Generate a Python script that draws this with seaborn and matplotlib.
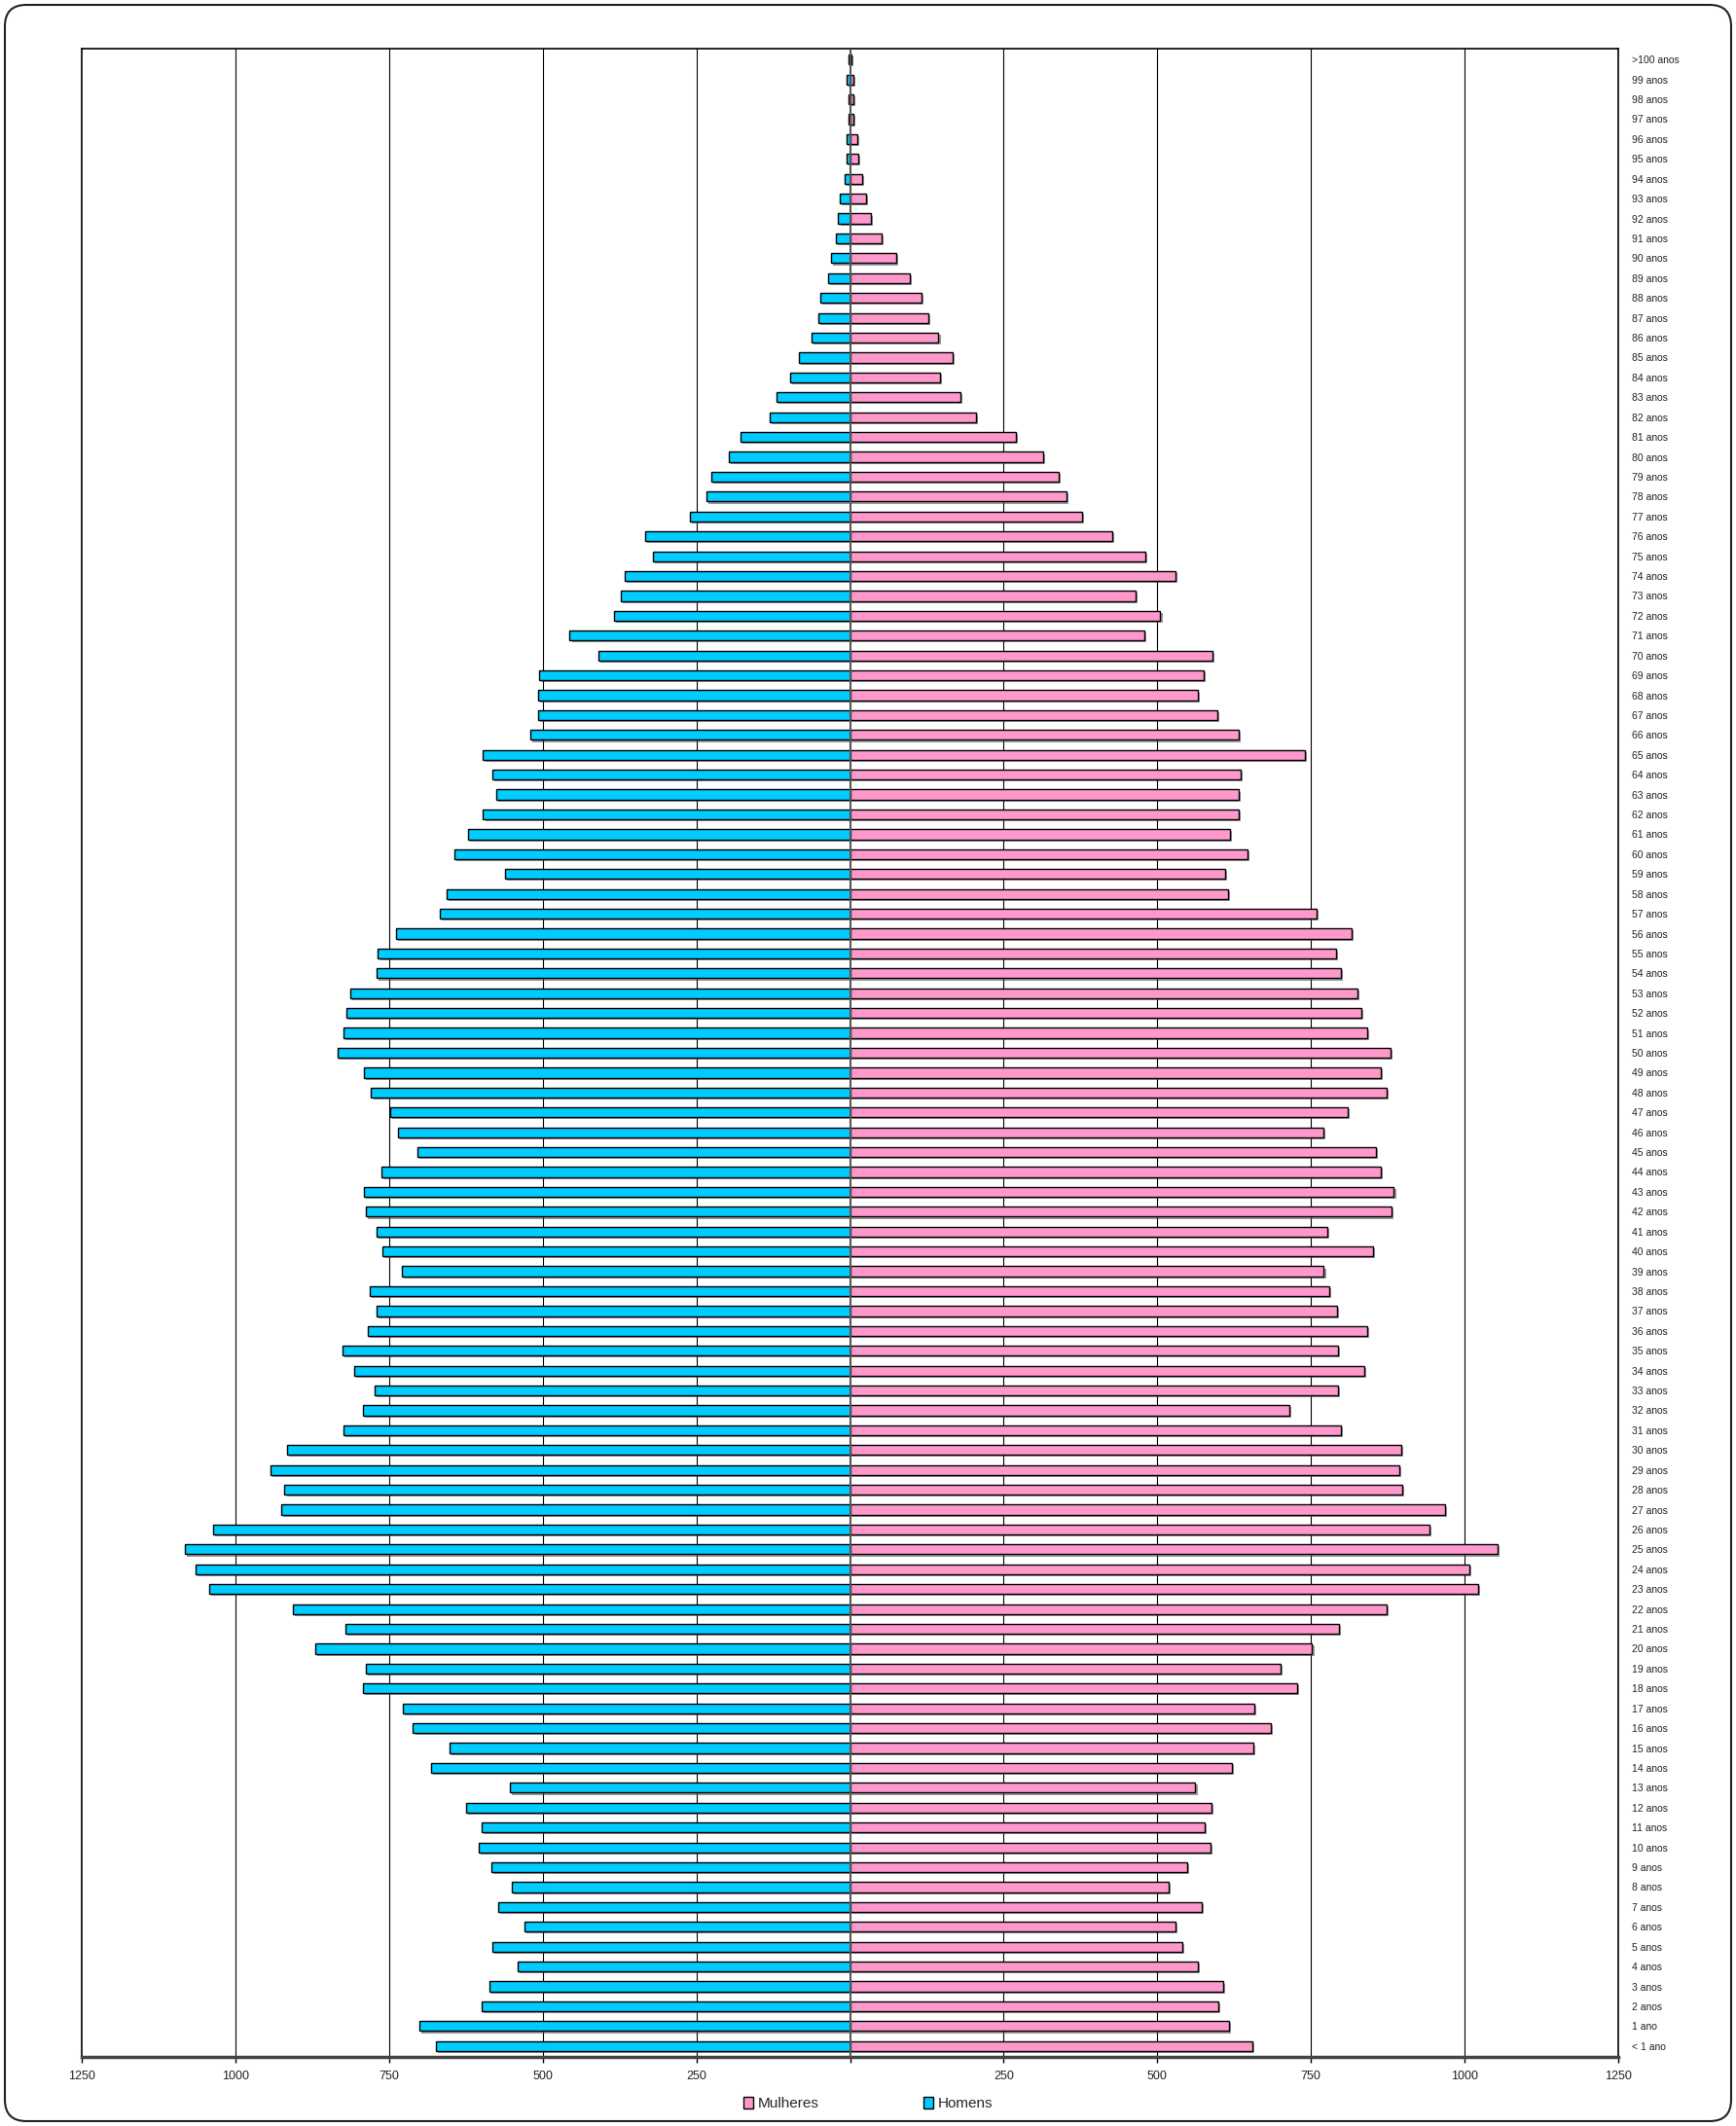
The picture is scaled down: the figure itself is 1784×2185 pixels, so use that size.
import numpy as np
import pandas as pd
import seaborn as sns
import matplotlib.pyplot as plt
import matplotlib.patheffects as pe
from matplotlib.patches import Patch, FancyBboxPatch

# faixas etarias, de cima para baixo
idades = ['>100 anos'] + [f'{i} anos' for i in range(99, 1, -1)] + ['1 ano', '< 1 ano']

homens = [3, 5, 2, 3, 6, 6, 9, 17, 19, 23,
          31, 36, 48, 51, 62, 83, 97, 119, 130, 178,
          197, 225, 233, 261, 334, 321, 367, 373, 384, 456,
          409, 506, 508, 508, 520, 597, 582, 575, 597, 621,
          643, 561, 656, 667, 739, 768, 771, 813, 820, 824,
          833, 791, 779, 748, 735, 704, 763, 791, 788, 770,
          761, 729, 781, 770, 784, 826, 807, 773, 792, 824,
          916, 943, 920, 926, 1036, 1082, 1065, 1043, 906, 821,
          870, 788, 793, 728, 711, 651, 681, 554, 624, 599,
          604, 583, 550, 572, 530, 582, 541, 587, 600, 700,
          674]

mulheres = [2, 5, 5, 5, 12, 13, 20, 26, 34, 51,
            75, 98, 116, 127, 144, 167, 146, 180, 205, 270,
            314, 339, 352, 378, 427, 481, 530, 465, 505, 479,
            589, 575, 566, 597, 633, 740, 635, 632, 633, 618,
            647, 611, 615, 759, 816, 791, 799, 826, 832, 842,
            879, 863, 873, 810, 770, 855, 863, 885, 881, 777,
            851, 771, 780, 792, 841, 794, 837, 794, 715, 799,
            897, 893, 898, 968, 943, 1054, 1007, 1022, 873, 796,
            752, 701, 728, 658, 684, 656, 622, 562, 588, 577,
            587, 548, 519, 572, 529, 540, 566, 607, 599, 617,
            654]

xticks = [-1250, -1000, -750, -500, -250, 0, 250, 500, 750, 1000, 1250]
xticklabels = ['1250', '1000', '750', '500', '250', '', '250', '500', '750', '1000', '1250']

cor_homens = '#00CCFF'
cor_mulheres = '#FF99CC'

df = pd.DataFrame({'idade': idades,
                   'homens': -np.array(homens),
                   'mulheres': np.array(mulheres)})

sns.set_theme(style='white')
plt.rcParams['font.family'] = ['Liberation Sans Narrow', 'Liberation Sans', 'DejaVu Sans']

fig = plt.figure(figsize=(17.84, 21.85), dpi=100)
ax = fig.add_axes([84 / 1784, 1 - 2114 / 2185, (1663 - 84) / 1784, (2114 - 50) / 2185])

# linhas de grade atras das barras
for v in [-1000, -750, -500, -250, 250, 500, 750, 1000]:
    ax.axvline(v, color='black', lw=0.8, zorder=0)

sns.barplot(data=df, x='homens', y='idade', orient='h', color=cor_homens,
            saturation=1, width=0.5, edgecolor='black', linewidth=1, ax=ax, zorder=2)
sns.barplot(data=df, x='mulheres', y='idade', orient='h', color=cor_mulheres,
            saturation=1, width=0.5, edgecolor='black', linewidth=1, ax=ax, zorder=2)

sombra = [pe.SimplePatchShadow(offset=(1.5, -1.5), shadow_rgbFace='#555555', alpha=0.6), pe.Normal()]
for p in ax.patches:
    p.set_path_effects(sombra)

ax.axvline(0, color='#555555', lw=1.5, zorder=3)

ax.set_xlim(-1250, 1250)
ax.set_ylim(100.55, -0.55)
ax.set_xticks(xticks)
ax.set_xticklabels(xticklabels)
ax.set_xlabel('')
ax.set_ylabel('')

ax.yaxis.tick_right()
ax.tick_params(axis='y', length=0, pad=10, labelsize=7.5, labelcolor='#222222')
ax.tick_params(axis='x', bottom=True, direction='out', length=4, width=1, color='black',
               pad=6, labelsize=9, labelcolor='#222222')

for s in ['left', 'right', 'top']:
    ax.spines[s].set_color('black')
    ax.spines[s].set_linewidth(1.2)
ax.spines['bottom'].set_color('#444444')
ax.spines['bottom'].set_linewidth(2.5)

handles = [Patch(facecolor=cor_mulheres, edgecolor='black', label='Mulheres'),
           Patch(facecolor=cor_homens, edgecolor='black', label='Homens')]
fig.legend(handles=handles, loc='center', bbox_to_anchor=(0.5, 1 - 2162 / 2185), ncol=2,
           frameon=False, fontsize=11, columnspacing=7, handlelength=0.7, handleheight=0.9,
           handletextpad=0.3)

borda = FancyBboxPatch((5, 5), 1774, 2175, boxstyle='round,pad=0,rounding_size=22',
                       transform=None, fill=False, edgecolor='#222222', lw=1.5)
fig.patches.append(borda)

fig.savefig('out.png', dpi=100)
